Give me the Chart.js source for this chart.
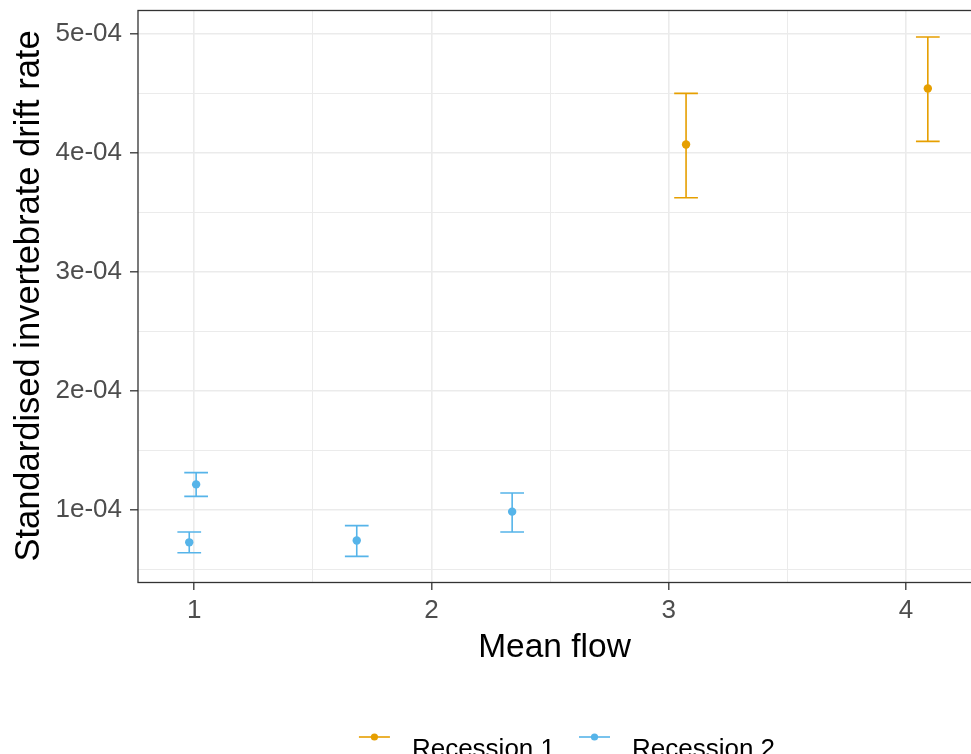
<!DOCTYPE html>
<html>
<head>
<meta charset="utf-8">
<script src="https://cdn.jsdelivr.net/npm/chart.js@4"></script>
<style>
  body { margin: 0; background: #fff; }
</style>
</head>
<body>
<canvas id="driftChart" width="971" height="754"></canvas>
<script>
// Recession 1 (mean flow, drift rate, error bar ends)
const r1Flow = [3.073, 4.092];
const r1Rate = [4.074e-4, 4.545e-4];
const r1Low  = [3.626e-4, 4.100e-4];
const r1High = [4.503e-4, 4.977e-4];

// Recession 2
const r2Flow = [1.008, 0.979, 1.685, 2.340];
const r2Rate = [1.217e-4, 0.730e-4, 0.746e-4, 0.988e-4];
const r2Low  = [1.116e-4, 0.643e-4, 0.612e-4, 0.817e-4];
const r2High = [1.316e-4, 0.817e-4, 0.870e-4, 1.145e-4];

const seriesNames = ['Recession 1', 'Recession 2'];
const seriesColors = ['#E69F00', '#56B4E9'];

const xTicks = [1, 2, 3, 4];
const xTickLabels = ['1', '2', '3', '4'];
const xMinor = [1.5, 2.5, 3.5];
const yTicks = [1e-4, 2e-4, 3e-4, 4e-4, 5e-4];
const yTickLabels = ['1e-04', '2e-04', '3e-04', '4e-04', '5e-04'];
const yMinor = [0.5e-4, 1.5e-4, 2.5e-4, 3.5e-4, 4.5e-4];

const FONT = "'Liberation Sans', Arial, sans-serif";

const findIdx = (arr, v) => arr.findIndex(a => Math.abs(a - v) < Math.abs(a) * 1e-6 + 1e-12);

function setTicks(major, minor) {
  return function(scale) {
    scale.ticks = major.map(v => ({ value: v, minor: false }))
      .concat(minor.map(v => ({ value: v, minor: true })))
      .sort((a, b) => a.value - b.value);
  };
}

function noPad(s) {
  s.paddingTop = 0; s.paddingBottom = 0; s.paddingLeft = 0; s.paddingRight = 0;
}

function gridOpts() {
  return {
    color: '#EBEBEB',
    lineWidth: c => (c.tick && c.tick.minor) ? 1 : 1.6,
    tickColor: c => (c.tick && c.tick.minor) ? 'rgba(0,0,0,0)' : '#333333',
    tickWidth: 1.3,
    tickLength: 8
  };
}

const errorBars = {
  id: 'errorBars',
  beforeDatasetsDraw(chart) {
    const { ctx, chartArea, scales: { x, y } } = chart;
    const groups = [
      [r1Flow, r1Low, r1High, seriesColors[0]],
      [r2Flow, r2Low, r2High, seriesColors[1]]
    ];
    ctx.save();
    ctx.beginPath();
    ctx.rect(chartArea.left, chartArea.top, chartArea.right - chartArea.left, chartArea.bottom - chartArea.top);
    ctx.clip();
    ctx.lineWidth = 1.6;
    groups.forEach(([fx, lo, hi, col]) => {
      ctx.strokeStyle = col;
      fx.forEach((f, i) => {
        const px = x.getPixelForValue(f);
        const x0 = x.getPixelForValue(f - 0.05), x1 = x.getPixelForValue(f + 0.05);
        const yl = y.getPixelForValue(lo[i]), yh = y.getPixelForValue(hi[i]);
        ctx.beginPath();
        ctx.moveTo(px, yl); ctx.lineTo(px, yh);
        ctx.moveTo(x0, yl); ctx.lineTo(x1, yl);
        ctx.moveTo(x0, yh); ctx.lineTo(x1, yh);
        ctx.stroke();
      });
    });
    ctx.restore();
  }
};

const panelAndLegend = {
  id: 'panelAndLegend',
  afterDraw(chart) {
    const { ctx, chartArea: a } = chart;
    ctx.save();
    // panel border; its right side lies past the canvas edge, as in the source
    ctx.strokeStyle = '#333333';
    ctx.lineWidth = 1.3;
    ctx.strokeRect(a.left, a.top + 0.5, a.right + 10 - a.left, a.bottom - a.top);

    // legend at the bottom (partly cut off, as in the source)
    ctx.font = '26px ' + FONT;
    const keyW = 31, textGap = 22, itemGap = 24, keyY = 737, textY = 749.5;
    const widths = seriesNames.map(n => ctx.measureText(n).width);
    const total = widths.reduce((s, w) => s + keyW + textGap + w, 0) + itemGap * (seriesNames.length - 1);
    let cx = 567 - total / 2;
    seriesNames.forEach((name, i) => {
      ctx.strokeStyle = seriesColors[i];
      ctx.lineWidth = 1.6;
      ctx.beginPath();
      ctx.moveTo(cx, keyY); ctx.lineTo(cx + keyW, keyY);
      ctx.stroke();
      ctx.fillStyle = seriesColors[i];
      ctx.beginPath();
      ctx.arc(cx + keyW / 2, keyY, 3.6, 0, Math.PI * 2);
      ctx.fill();
      ctx.fillStyle = '#000';
      ctx.textAlign = 'left';
      ctx.textBaseline = 'middle';
      ctx.fillText(name, cx + keyW + textGap, textY);
      cx += keyW + textGap + widths[i] + itemGap;
    });
    ctx.restore();
  }
};

new Chart(document.getElementById('driftChart'), {
  type: 'scatter',
  data: {
    datasets: [
      {
        label: seriesNames[0],
        data: r1Flow.map((f, i) => ({ x: f, y: r1Rate[i] })),
        backgroundColor: seriesColors[0],
        borderWidth: 0,
        pointRadius: 4.2
      },
      {
        label: seriesNames[1],
        data: r2Flow.map((f, i) => ({ x: f, y: r2Rate[i] })),
        backgroundColor: seriesColors[1],
        borderWidth: 0,
        pointRadius: 4.2
      }
    ]
  },
  options: {
    responsive: false,
    animation: false,
    layout: { autoPadding: false, padding: { left: 0, top: 10, right: 0, bottom: 74 } },
    plugins: {
      legend: { display: false },
      tooltip: { enabled: false }
    },
    scales: {
      x: {
        type: 'linear',
        min: 0.763,
        max: 4.274,
        afterBuildTicks: setTicks(xTicks, xMinor),
        afterFit: s => { s.height = 98; noPad(s); },
        grid: gridOpts(),
        border: { display: false },
        ticks: {
          padding: 5,
          color: '#4D4D4D',
          font: { family: FONT, size: 26 },
          callback: v => { const i = findIdx(xTicks, v); return i < 0 ? '' : xTickLabels[i]; }
        },
        title: {
          display: true,
          text: 'Mean flow',
          color: '#000',
          font: { family: FONT, size: 33.5 },
          padding: { top: 0, bottom: 12 }
        }
      },
      y: {
        type: 'linear',
        min: 0.3966e-4,
        max: 5.204e-4,
        afterBuildTicks: setTicks(yTicks, yMinor),
        afterFit: s => { s.width = 138; noPad(s); },
        grid: gridOpts(),
        border: { display: false },
        ticks: {
          padding: 8,
          color: '#4D4D4D',
          font: { family: FONT, size: 26 },
          callback: v => { const i = findIdx(yTicks, v); return i < 0 ? '' : yTickLabels[i]; }
        },
        title: {
          display: true,
          text: 'Standardised invertebrate drift rate',
          color: '#000',
          font: { family: FONT, size: 34.5 },
          padding: { top: 9, bottom: 0 }
        }
      }
    }
  },
  plugins: [errorBars, panelAndLegend]
});
</script>
</body>
</html>
